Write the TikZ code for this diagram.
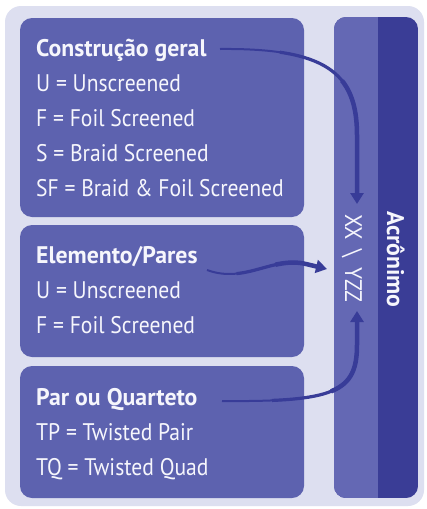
\documentclass[tikz,border=0pt]{standalone}
\usepackage{fontspec}
\setmainfont{PT Sans}[FakeStretch=0.9]
\newfontfamily\boldf{PT Sans}[FakeStretch=0.99]
\usetikzlibrary{arrows.meta}
\definecolor{bgc}{RGB}{221,223,240}
\definecolor{boxc}{RGB}{93,98,175}
\definecolor{colL}{RGB}{100,104,180}
\definecolor{colD}{RGB}{58,61,150}
\definecolor{arrc}{RGB}{56,60,152}
\definecolor{txtc}{RGB}{246,246,252}
\tikzset{
  panel/.style={fill=boxc, rounded corners=12pt},
  txt/.style={anchor=base west, inner sep=0pt, text=txtc, font=\fontsize{24}{28}\selectfont},
  ttl/.style={txt, font=\fontsize{24}{28}\selectfont\boldf\bfseries},
  arr/.style={draw=arrc, line width=4.5pt, -{Triangle[length=11pt,width=13pt]}},
  thin/.style={draw=arrc, line width=2pt, shorten >=8pt},
  mid/.style={draw=arrc, line width=3.2pt, shorten >=8pt, dash pattern=on 600pt off #1, dash phase=600pt},
  thick/.style={draw=arrc, line width=4.5pt, dash pattern=on 600pt off #1, dash phase=600pt, -{Triangle[length=11pt,width=13pt]}},
}
\begin{document}
\begin{tikzpicture}[x=1pt,y=-1pt]
\useasboundingbox (0,0) rectangle (427,509);
\fill[white] (0,0) rectangle (427,509);
\fill[bgc, rounded corners=16pt] (5,6) rectangle (424,506);
% panels
\fill[panel] (20,18) rectangle (304,217);
\fill[panel] (20,225) rectangle (304,357);
\fill[panel] (20,366) rectangle (304,498);
% column
\begin{scope}
  \clip[rounded corners=12pt] (334,17) rectangle (418,498);
  \fill[colD] (334,17) rectangle (418,498);
  \fill[colL] (334,17) rectangle (378,498);
\end{scope}
% texts box 1
\node[ttl] (t1) at (36,56) {Construção geral};
\node[txt] (l11) at (36,91) {U = Unscreened};
\node[txt] (l12) at (36,126) {F = Foil Screened};
\node[txt] (l13) at (36,161) {S = Braid Screened};
\node[txt] (l14) at (36,196) {SF = Braid \& Foil Screened};
% box 2
\node[ttl] (t2) at (36,263) {Elemento/Pares};
\node[txt] (l21) at (36,298) {U = Unscreened};
\node[txt] (l22) at (36,333) {F = Foil Screened};
% box 3
\node[ttl] (t3) at (36,405) {Par ou Quarteto};
\node[txt] (l31) at (36,440) {TP = Twisted Pair};
\node[txt] (l32) at (36,475) {TQ = Twisted Quad};
% column texts
\node[txt, rotate=-90] (xx) at (345,214) {XX \,\textbackslash\, YZZ};
\node[ttl, rotate=-90] (acr) at (387,211) {Acrônimo};
% arrow endpoints
\coordinate (s1) at (220,49);
\coordinate (e1) at (357,204);
\coordinate (s2) at (207,270);
\coordinate (e2) at (327,269);
\coordinate (s3) at (222,401);
\coordinate (e3) at (357,311);
% arrow 1
\path[thin] (s1) .. controls (325,48) and (357,72) .. (357,135) -- (e1);
\path[mid=60pt] (s1) .. controls (325,48) and (357,72) .. (357,135) -- (e1);
\path[thick=130pt] (s1) .. controls (325,48) and (357,72) .. (357,135) -- (e1);
% arrow 2
\path[thin] (s2) .. controls (245,284) and (272,256) .. (306,264) -- (e2);
\path[mid=30pt] (s2) .. controls (245,284) and (272,256) .. (306,264) -- (e2);
\path[thick=70pt] (s2) .. controls (245,284) and (272,256) .. (306,264) -- (e2);
% arrow 3
\path[thin] (s3) .. controls (335,402) and (357,392) .. (357,345) -- (e3);
\path[mid=50pt] (s3) .. controls (335,402) and (357,392) .. (357,345) -- (e3);
\path[thick=110pt] (s3) .. controls (335,402) and (357,392) .. (357,345) -- (e3);
\end{tikzpicture}
\end{document}
